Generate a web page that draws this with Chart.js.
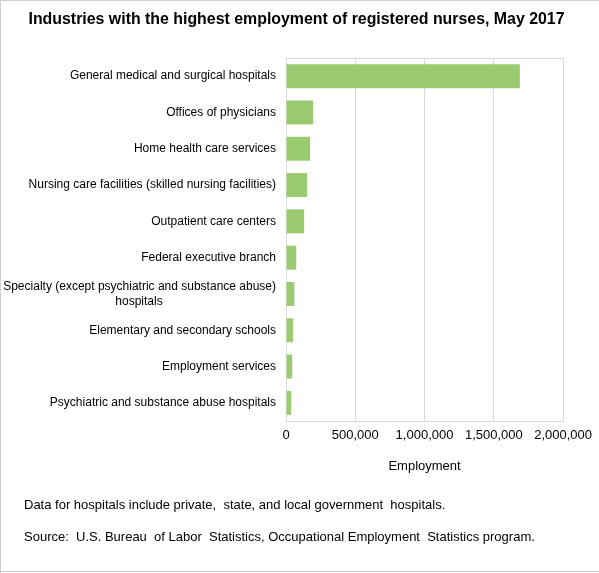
<!DOCTYPE html>
<html>
<head>
<meta charset="utf-8">
<title>Registered nurses by industry</title>
<script src="https://cdn.jsdelivr.net/npm/chart.js@4/dist/chart.umd.min.js"></script>
<style>
  html, body { margin: 0; padding: 0; background: #fff; }
  #wrap { width: 599px; height: 573px; position: relative; }
</style>
</head>
<body>
<div id="wrap"><canvas id="chart" width="599" height="573"></canvas></div>
<script>
// industry names (top to bottom)
const industries = [
  "General medical and surgical hospitals",
  "Offices of physicians",
  "Home health care services",
  "Nursing care facilities (skilled nursing facilities)",
  "Outpatient care centers",
  "Federal executive branch",
  ["Specialty (except psychiatric and substance abuse)", "hospitals                                  "],
  "Elementary and secondary schools",
  "Employment services",
  "Psychiatric and substance abuse hospitals"
];

// employment, May 2017
const employment = [1688000, 196000, 174000, 153000, 131000, 74000, 60000, 52000, 45000, 38000];

const xTicks = [0, 500000, 1000000, 1500000, 2000000];

const chartTitle = "Industries with the highest employment of registered nurses, May 2017";
const notes = [
  "Data for hospitals include private,  state, and local government  hospitals.",
  "Source:  U.S. Bureau  of Labor  Statistics, Occupational Employment  Statistics program."
];

const fontFamily = "Arial, 'Liberation Sans', sans-serif";
const gridColor = "#d9d9d9";

// title, frame round the picture, box round the plot, and the notes below
const extras = {
  id: "extras",
  beforeDraw(chart) {
    const ctx = chart.ctx;
    ctx.save();
    ctx.fillStyle = "#fff";
    ctx.fillRect(0, 0, chart.width, chart.height);
    ctx.restore();
  },
  afterDraw(chart) {
    const ctx = chart.ctx;
    const a = chart.chartArea;
    ctx.save();
    ctx.strokeStyle = gridColor;
    ctx.lineWidth = 1;
    ctx.beginPath();
    ctx.moveTo(Math.round(a.left) + 0.5, Math.round(a.top) + 0.5);
    ctx.lineTo(Math.round(a.right) + 0.5, Math.round(a.top) + 0.5);
    ctx.stroke();

    ctx.strokeStyle = "#cfcfcf";
    ctx.beginPath();
    ctx.moveTo(0.5, chart.height);
    ctx.lineTo(0.5, 0.5);
    ctx.lineTo(chart.width, 0.5);
    ctx.moveTo(0, chart.height - 1.5);
    ctx.lineTo(chart.width, chart.height - 1.5);
    ctx.stroke();

    ctx.fillStyle = "#000";
    ctx.textBaseline = "middle";
    ctx.textAlign = "center";
    ctx.font = "bold 15.9px " + fontFamily;
    ctx.fillText(chartTitle, 296.5, 19.5);

    ctx.font = "13px " + fontFamily;
    ctx.textAlign = "left";
    ctx.fillText(notes[0], 24, 505);
    ctx.fillText(notes[1], 24, 537);
    ctx.restore();
  }
};

new Chart(document.getElementById("chart"), {
  type: "bar",
  data: {
    labels: industries,
    datasets: [{
      label: "Employment",
      data: employment,
      backgroundColor: "#9bcb71",
      borderWidth: 0,
      categoryPercentage: 1,
      barPercentage: 0.66
    }]
  },
  options: {
    indexAxis: "y",
    responsive: false,
    animation: false,
    devicePixelRatio: 1,
    layout: { padding: { left: 0, right: 35, top: 58, bottom: 99 } },
    plugins: {
      legend: { display: false },
      tooltip: { enabled: false },
      title: { display: false }
    },
    scales: {
      x: {
        min: 0,
        max: 2000000,
        afterBuildTicks(scale) {
          scale.ticks = xTicks.map(v => ({ value: v }));
        },
        afterFit(scale) { scale.height = 53; },
        grid: { color: gridColor, drawTicks: false },
        border: { color: gridColor },
        ticks: {
          color: "#000",
          padding: 7,
          maxRotation: 0,
          font: { family: fontFamily, size: 13 },
          callback: v => v.toLocaleString("en-US")
        },
        title: {
          display: true,
          text: "Employment",
          color: "#000",
          font: { family: fontFamily, size: 13 },
          padding: { top: 8, bottom: 0 }
        }
      },
      y: {
        grid: { display: false, drawTicks: false },
        border: { color: gridColor },
        afterFit(scale) { scale.width = 286; },
        ticks: {
          color: "#000",
          padding: 10,
          autoSkip: false,
          font: { family: fontFamily, size: 12, lineHeight: 1.25 }
        }
      }
    }
  },
  plugins: [extras]
});
</script>
</body>
</html>
